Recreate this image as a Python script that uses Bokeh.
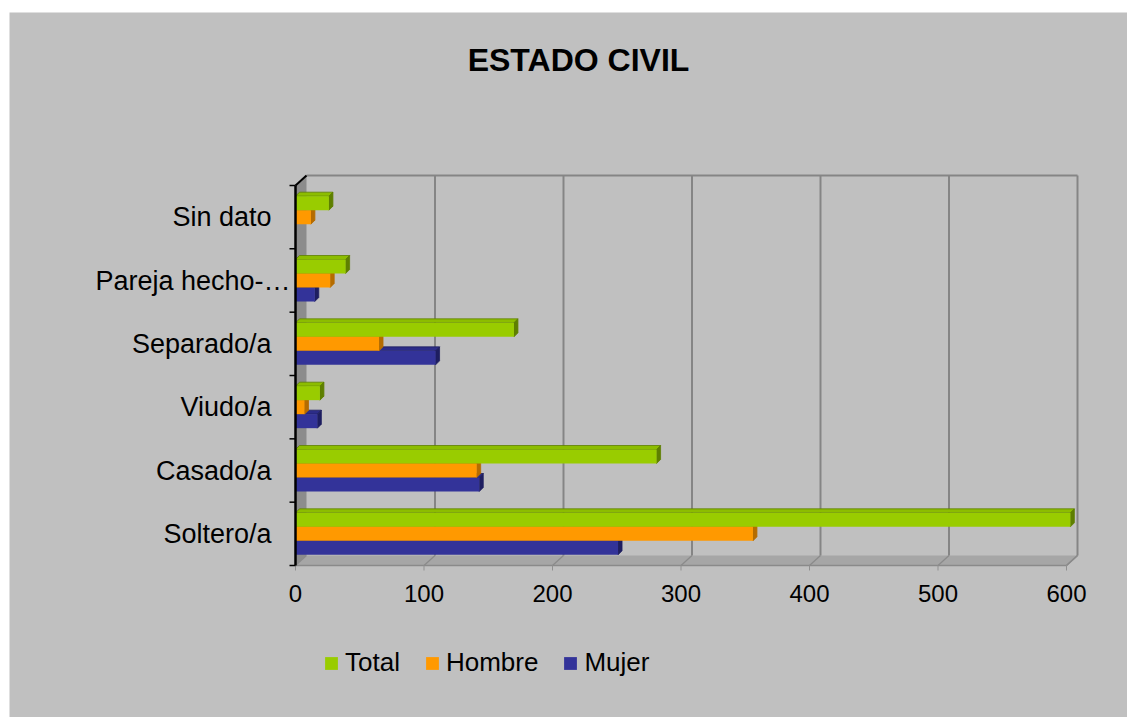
import numpy as np
from bokeh.plotting import figure
from bokeh.models import Range1d, Label, Legend, LegendItem, Spacer
from bokeh.layouts import row, column
from bokeh.core.properties import value
from bokeh.embed import file_html
from bokeh.resources import INLINE

# ---------------- data ----------------
categories = ["Soltero/a", "Casado/a", "Viudo/a", "Separado/a", "Pareja hecho-…", "Sin dato"]
total = [603, 281, 19, 170, 39, 26]
hombre = [356, 141, 7, 65, 27, 12]
mujer = [251, 143, 17, 109, 15, 0]
series_names = ["Total", "Hombre", "Mujer"]
x_ticks = [0, 100, 200, 300, 400, 500, 600]
title_text = "ESTADO CIVIL"

# ---------------- styles / layout ----------------
FONT = "Liberation Sans"
BG = "#C0C0C0"
front_colors = {"Total": "#99CC00", "Hombre": "#FF9900", "Mujer": "#333399"}
top_colors = {"Total": "#8CBD00", "Hombre": "#F08F00", "Mujer": "#2C2C88"}
side_colors = {"Total": "#5E7F00", "Hombre": "#B56C00", "Mujer": "#1E1E60"}

W, H = 1118, 705          # figure placed at page (9, 12)
PXX = 1.285               # px per x unit
PXY = 63.33               # px per category band
X0, Y0 = 295 - 9, 565 - 12   # pixel position of the value origin inside the figure
DX, DY = 11 / PXX, 10 / PXY  # wall depth
BDX, BDY = 4 / PXX, 4 / PXY  # bar depth
BH = 14 / PXY                # bar height


def sx(px):   # horizontal pixel offset -> data units
    return px / PXX


def sy(px):
    return px / PXY


n = len(categories)
xmax = x_ticks[-1]

p = figure(width=W, height=H, output_backend="svg", toolbar_location=None,
           x_range=Range1d(-X0 / PXX, (W - X0) / PXX),
           y_range=Range1d(-(H - Y0) / PXY, Y0 / PXY),
           x_axis_location=None, y_axis_location=None,
           min_border=0, min_border_left=0, min_border_right=0,
           min_border_top=0, min_border_bottom=0)
p.background_fill_color = BG
p.border_fill_color = BG
p.outline_line_color = None
p.grid.visible = False

# ---------------- 3D walls ----------------
p.patch([0, DX, DX, 0], [0, DY, n + DY, n], fill_color="#8C8C8C", line_color=None)
p.patch([0, xmax, xmax + DX, DX], [0, 0, DY, DY], fill_color="#A6A6A6", line_color=None)
p.segment(x0=x_ticks, y0=[0] * len(x_ticks), x1=[t + DX for t in x_ticks],
          y1=[DY] * len(x_ticks), line_color="#8A8A8A", line_width=1.2)
p.segment(x0=[0, xmax], y0=[0, 0], x1=[xmax, xmax + DX], y1=[0, DY],
          line_color="#8A8A8A", line_width=1.5)
gx = [t + DX for t in x_ticks[1:]]
p.segment(x0=gx, y0=[DY] * len(gx), x1=gx, y1=[n + DY] * len(gx),
          line_color="#858585", line_width=2)
p.segment(x0=[DX], y0=[n + DY], x1=[xmax + DX], y1=[n + DY],
          line_color="#858585", line_width=2)
# value-axis tick marks below the floor
p.segment(x0=x_ticks, y0=[0] * len(x_ticks), x1=x_ticks, y1=[-sy(5)] * len(x_ticks),
          line_color="#909090", line_width=1)

# ---------------- bars ----------------
vals = {"Total": total, "Hombre": hombre, "Mujer": mujer}
offs = {"Total": BH, "Hombre": 0.0, "Mujer": -BH}
centers = np.arange(n) + 0.5
renderers = {}
for name in ["Mujer", "Hombre", "Total"]:
    v = np.array(vals[name], dtype=float)
    yc = centers + offs[name]
    yt, yb = yc + BH / 2, yc - BH / 2
    keep = v > 0
    txs = [[0, a, a + BDX, BDX] for a in v[keep]]
    tys = [[t, t, t + BDY, t + BDY] for t in yt[keep]]
    p.patches(txs, tys, fill_color=top_colors[name], line_color=side_colors[name],
              line_width=0.8)
    sxs = [[a, a + BDX, a + BDX, a] for a in v[keep]]
    sys_ = [[b, b + BDY, t + BDY, t] for b, t in zip(yb[keep], yt[keep])]
    p.patches(sxs, sys_, fill_color=side_colors[name], line_color=side_colors[name],
              line_width=0.8)
    renderers[name] = p.hbar(y=yc[keep], left=0, right=v[keep], height=BH,
                             fill_color=front_colors[name], line_color=None)

# ---------------- category axis line & boundary ticks ----------------
p.segment(x0=[0], y0=[0], x1=[0], y1=[n], line_color="black", line_width=2.5)
p.segment(x0=[0], y0=[n], x1=[DX], y1=[n + DY], line_color="black", line_width=2)
bounds = list(range(n + 1))
p.segment(x0=[-sx(6)] * len(bounds), y0=bounds, x1=[0] * len(bounds), y1=bounds,
          line_color="black", line_width=1.5)

# ---------------- tick labels ----------------
cat_nudge = [sx(19) if c.endswith("…") else 0.0 for c in categories]
p.text(x=[-sx(24) + d for d in cat_nudge], y=centers, text=categories,
       text_align="right", text_baseline="middle", text_color="black",
       text_font=value(FONT), text_font_size=value("27px"))
p.text(x=x_ticks, y=[-sy(28)] * len(x_ticks), text=[str(t) for t in x_ticks],
       text_align="center", text_baseline="middle", text_color="black",
       text_font=value(FONT), text_font_size=value("24px"))

# ---------------- title ----------------
p.add_layout(Label(x=sx(578 - 295), y=sy(565 - 59), text=title_text,
                   text_align="center", text_baseline="middle",
                   text_font=FONT, text_font_size="32px", text_font_style="bold",
                   text_color="black"))

# ---------------- legend ----------------
legend = Legend(items=[LegendItem(label=s, renderers=[renderers[s]]) for s in series_names],
                orientation="horizontal", location=(314, 39),
                glyph_width=16, glyph_height=16, label_standoff=6, spacing=24,
                padding=0, margin=0, border_line_color=None, background_fill_alpha=0,
                label_text_font=FONT, label_text_font_size="26px",
                label_text_color="black")
p.add_layout(legend, "center")

layout = row(Spacer(width=9, height=12 + H),
             column(Spacer(width=W, height=12), p, spacing=0), spacing=0)

open("out.html", "w").write(file_html(layout, INLINE))
